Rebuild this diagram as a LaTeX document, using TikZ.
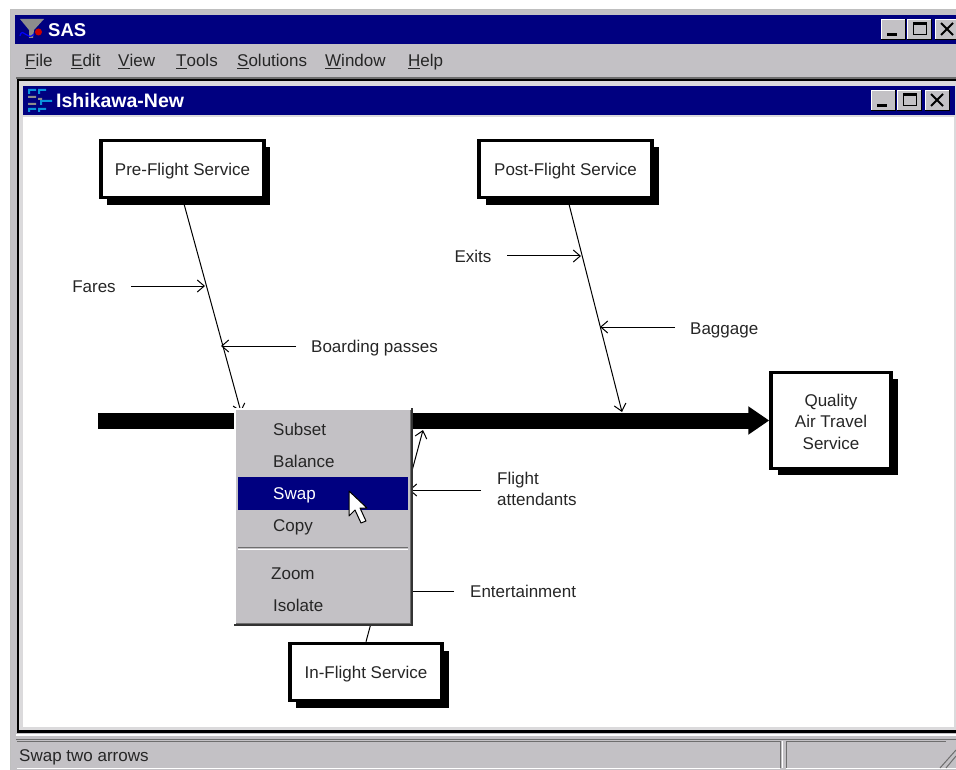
\documentclass[tikz,border=0pt]{standalone}
\usepackage{fontspec}
\setmainfont{Liberation Sans}
\usetikzlibrary{arrows.meta}
\definecolor{wgray}{RGB}{195,193,197}
\definecolor{navy}{RGB}{0,0,128}
\definecolor{dgray}{RGB}{110,110,110}
\tikzset{
  x=1pt,y=-1pt,
  lbl/.style={font=\fontsize{17}{21.5}\selectfont,inner sep=0pt,text=black!85},
  txt/.style={lbl,text height=13pt,text depth=1pt},
  mitem/.style={txt,anchor=west},
  cbox/.style={draw=black,line width=3.5pt,fill=white,inner sep=0pt,align=center,font=\fontsize{17}{21.5}\selectfont,text=black!85,text height=13pt,text depth=0pt},
  shad/.style={fill=black},
  arr/.style={draw=black,line width=1pt,-{Straight Barb[length=7pt,width=12pt,line width=1pt]}},
  plain/.style={draw=black,line width=1pt},
}
\newcommand{\winbtns}[2]{% x of first button, y top
  \fill[wgray] (#1,#2) rectangle ++(24,20);
  \draw[white,line width=.8pt] (#1,#2+20)--(#1,#2)--(#1+24,#2);
  \draw[black,line width=.8pt] (#1,#2+20)--(#1+24,#2+20)--(#1+24,#2);
  \fill[black] (#1+6,#2+14) rectangle ++(10,3);
  \fill[wgray] (#1+26,#2) rectangle ++(24,20);
  \draw[white,line width=.8pt] (#1+26,#2+20)--(#1+26,#2)--(#1+50,#2);
  \draw[black,line width=.8pt] (#1+26,#2+20)--(#1+50,#2+20)--(#1+50,#2);
  \draw[black,line width=1pt] (#1+32,#2+4) rectangle (#1+45,#2+16);
  \fill[black] (#1+32,#2+3) rectangle (#1+45,#2+6);
  \fill[wgray] (#1+54,#2) rectangle ++(24,20);
  \draw[white,line width=.8pt] (#1+54,#2+20)--(#1+54,#2)--(#1+78,#2);
  \draw[black,line width=.8pt] (#1+54,#2+20)--(#1+78,#2+20)--(#1+78,#2);
  \draw[black,line width=1.8pt] (#1+60,#2+4)--(#1+72,#2+16) (#1+72,#2+4)--(#1+60,#2+16);
}
\newcommand{\ul}[2]{\underline{\smash{#1}}#2}
\begin{document}
\begin{tikzpicture}
\useasboundingbox (0,0) rectangle (956,770);
\fill[white] (0,0) rectangle (956,770);
% application window
\fill[wgray] (10,10) rectangle (956,770);
\draw[black!25,line width=1pt] (10,770)--(10,10)--(956,10);
\fill[navy] (15,15) rectangle (956,44);
\node[anchor=west,inner sep=0pt,text=white,font=\fontsize{18.5}{21}\selectfont\bfseries] (apptitle) at (48,30) {SAS};
% app icon
\fill[black!45] (20,19)--(44,19)--(34,30)--(33,38)--(29,38)--(29,30)--cycle;
\fill[red!80!black] (38.5,32) circle (3.5);
\draw[blue,line width=1.2pt] (20,36) .. controls (22,26) and (28,42) .. (34,34);
\winbtns{881}{19}
% menu bar
\node[mitem] (mfile) at (25,61) {\ul{F}{ile}};
\node[mitem] (medit) at (71,61) {\ul{E}{dit}};
\node[mitem] (mview) at (118,61) {\ul{V}{iew}};
\node[mitem] (mtools) at (176,61) {\ul{T}{ools}};
\node[mitem] (msol) at (237,61) {\ul{S}{olutions}};
\node[mitem] (mwin) at (325,61) {\ul{W}{indow}};
\node[mitem] (mhelp) at (408,61) {\ul{H}{elp}};
% MDI child window
\fill[dgray] (16,77) rectangle (956,79);
\fill[black] (17,79) rectangle (956,81);
\fill[black] (17,79) rectangle (19,731);
\fill[black] (17,730) rectangle (956,733);
\fill[wgray!60!white] (19,81) rectangle (956,730);
\fill[navy] (23,86) rectangle (955,115);
\fill[white] (23,117) rectangle (954,727);
\node[anchor=west,inner sep=0pt,text=white,font=\fontsize{19.5}{21}\selectfont\bfseries] (doctitle) at (56,101) {Ishikawa-New};
% document icon
\fill[cyan!80!blue] (28,89) rectangle (36,91) (38,89) rectangle (46,91) (28,91) rectangle (30,94) (38,91) rectangle (40,94)
  (28,108) rectangle (36,110) (38,108) rectangle (46,110) (28,110) rectangle (30,112) (38,110) rectangle (40,112)
  (42,100) rectangle (52,102) (40,100) rectangle (42,105);
\fill[black!45] (28,96) rectangle (36,98) (28,103) rectangle (36,105) (38,98) rectangle (42,100);
\winbtns{871}{90}
% status bar
\draw[white,line width=1.2pt] (16,735)--(956,735);
\draw[dgray,line width=1pt] (16,739)--(956,739);
\draw[dgray,line width=1pt] (17,741)--(780,741)--(780,768);
\draw[white,line width=1pt] (17,768)--(780,768);
\draw[dgray,line width=1pt] (786,741)--(946,741);
\draw[dgray,line width=1pt] (786,741)--(786,768);
\draw[white,line width=1pt] (786,768)--(956,768);
\draw[white,line width=1pt] (782,741)--(782,768);
\draw[dgray,line width=1pt] (940,768)--(956,750) (946,768)--(956,756);
\node[mitem] (status) at (19,755) {Swap two arrows};
% boxes with shadows
\fill[shad] (107,147) rectangle (270,205);
\node[cbox,minimum width=163pt,minimum height=57pt] (pre) at (182.5,169) {Pre-Flight Service};
\fill[shad] (486,147) rectangle (659,205);
\node[cbox,minimum width=173pt,minimum height=57pt] (post) at (565.5,169) {Post-Flight Service};
\fill[shad] (778,379) rectangle (898,475);
\node[cbox,minimum width=120pt,minimum height=96pt,text height=57pt,text depth=0pt] (quality) at (831,420.5) {Quality\\Air Travel\\Service};
\fill[shad] (296,651) rectangle (449,708);
\node[cbox,minimum width=152pt,minimum height=57pt] (inflight) at (366,672) {In-Flight Service};
% spine
\coordinate (spinestart) at (98,420.5);
\draw[line width=16pt,draw=black,-{Triangle[length=21pt,width=27pt]}] (spinestart) -- (quality.west);
% bones
\coordinate (preend) at (241,412);
\draw[arr] (pre.south) ++(0.5,1) coordinate (prestart) -- (preend);
\coordinate (postend) at (622,412);
\draw[arr] (post.south) ++(2.5,1) coordinate (poststart) -- (postend);
\coordinate (inend) at (423,430);
\draw[arr] (inflight.north) -- (inend);
% causes
\node[txt] (fares) at (94,286) {Fares};
\coordinate (faresend) at (205,286);
\draw[arr] (131,286) coordinate (faresstart) -- (faresend);
\node[txt,anchor=west] (boarding) at (311,346) {Boarding passes};
\coordinate (boardingend) at (221,346);
\draw[arr] (296,346) coordinate (boardingstart) -- (boardingend);
\node[txt] (exits) at (473,256) {Exits};
\coordinate (exitsend) at (581,256);
\draw[arr] (507,256) coordinate (exitsstart) -- (exitsend);
\node[txt,anchor=west] (baggage) at (690,328) {Baggage};
\coordinate (baggageend) at (600,327);
\draw[arr] (675,327) coordinate (baggagestart) -- (baggageend);
\node[lbl,anchor=west,align=left] (flight) at (497,489) {Flight\\attendants};
\coordinate (flightend) at (409,490);
\draw[arr] (481,490) coordinate (flightstart) -- (flightend);
\node[txt,anchor=west] (ent) at (470,591) {Entertainment};
\coordinate (entend) at (390,591);
\draw[plain] (454,591) coordinate (entstart) -- (entend);
% context menu
\fill[black!80] (233.5,408) rectangle (412.5,625.5);
\fill[white] (233.5,408) rectangle (411,624);
\fill[dgray] (235.5,410) rectangle (411,624);
\fill[wgray] (235.5,410) rectangle (410,623);
\fill[navy] (238,477) rectangle (408,510);
\node[mitem] (msubset) at (273,429) {Subset};
\node[mitem] (mbalance) at (273,461) {Balance};
\node[mitem,text=white] (mswap) at (273,493) {Swap};
\node[mitem] (mcopy) at (273,525) {Copy};
\draw[dgray,line width=1pt] (238,547.5)--(408,547.5);
\draw[white,line width=1pt] (238,549)--(408,549);
\node[mitem] (mzoom) at (271,573) {Zoom};
\node[mitem] (misolate) at (273,605) {Isolate};
% mouse pointer
\fill[white,draw=black,line width=1pt,line join=round] (349,491)--(349,516)--(355,510)--(361,523)--(366,521)--(360,508)--(367,508)--cycle;
\end{tikzpicture}
\end{document}
